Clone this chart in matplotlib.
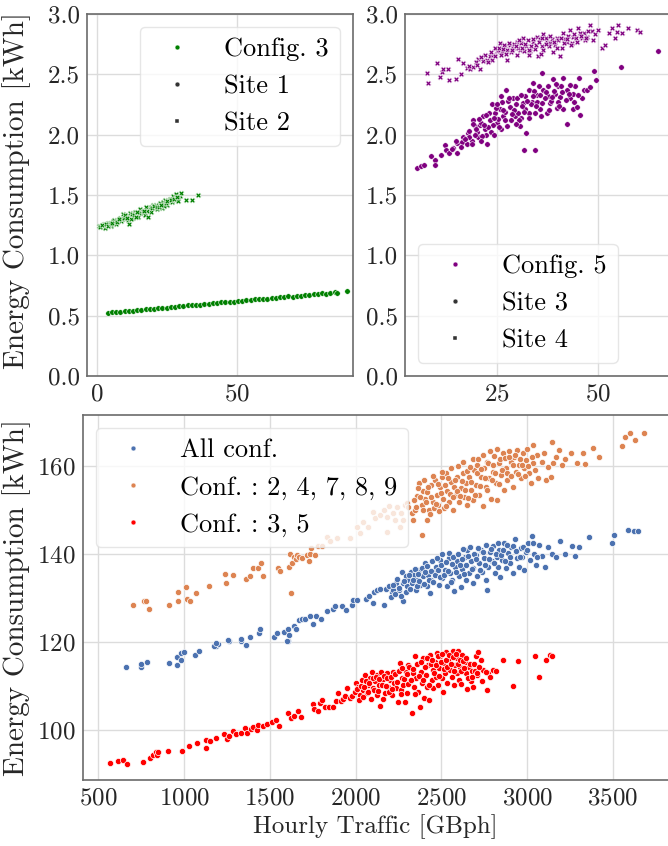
import numpy as np
import matplotlib
matplotlib.use("Agg")
import matplotlib.pyplot as plt
from matplotlib.lines import Line2D

## Style
plt.rcParams['font.family'] = 'serif'
plt.rcParams['font.serif'] = ['cmr10']
plt.rcParams['axes.formatter.use_mathtext'] = True
plt.rcParams['mathtext.fontset'] = 'cm'

## Data: top left, Config. 3
site1_x = [4, 5.5, 7, 8.5, 10, 11.5, 13, 14.5, 16, 17.5, 19, 20.5, 22, 23.5, 25, 26.5, 28, 29.5,
           31, 32.5, 34, 35.5, 37, 38.5, 40, 41.5, 43, 44.5, 46, 47.5, 49, 50.5, 52, 53.5, 55,
           56.5, 58, 59.5, 61, 62.5, 64, 65.5, 67, 68.5, 70, 71.5, 73, 74.5, 76, 77.5, 79, 80.5,
           82, 83.5, 85, 86, 89.4]
site1_y = [.524, .527, .533, .532, .538, .541, .542, .549, .548, .555, .557, .556, .564, .566,
           .567, .574, .573, .579, .578, .586, .585, .592, .591, .599, .598, .604, .603, .611,
           .610, .616, .615, .622, .621, .629, .628, .635, .634, .641, .640, .648, .646, .653,
           .652, .660, .658, .666, .664, .672, .671, .678, .677, .685, .683, .691, .696, .690, .700]

site2_x = [0.9, 1.5, 2.2, 2.8, 3.0, 3.6, 4.2, 4.8, 5.3, 5.9, 6.5, 7.0, 7.7, 8.3, 8.8, 9.5, 10.0,
           10.6, 11.2, 11.5, 11.9, 12.5, 13.1, 13.7, 14.3, 14.9, 15.5, 16.1, 16.7, 17.3, 17.8,
           18.4, 19.0, 19.6, 20.2, 20.8, 21.4, 22.0, 22.6, 23.2, 23.8, 24.4, 25.0, 25.6, 26.2,
           26.8, 27.4, 28.0, 28.3, 29.2, 29.7, 30.3, 31.9, 33.9, 36.3,
           2.5, 4.5, 6.2, 9.1, 12.2, 15.2, 18.1, 21.1, 24.1, 27.1, 29.0,
           1.2, 1.9, 3.3, 3.9, 5.0, 5.6, 6.8, 7.3, 8.0, 9.8, 10.3, 10.9, 12.8, 13.4, 14.0, 14.6,
           16.4, 17.0, 19.3, 19.9, 20.5, 21.7, 22.3, 23.0, 24.7, 25.3, 26.5, 27.7, 28.6]
site2_y = [1.24, 1.245, 1.24, 1.26, 1.23, 1.25, 1.265, 1.27, 1.245, 1.28, 1.27, 1.255, 1.29,
           1.31, 1.28, 1.34, 1.30, 1.32, 1.29, 1.26, 1.35, 1.33, 1.31, 1.36, 1.34, 1.32, 1.38,
           1.36, 1.35, 1.33, 1.40, 1.32, 1.38, 1.36, 1.42, 1.40, 1.38, 1.41, 1.43, 1.39, 1.44,
           1.46, 1.42, 1.45, 1.47, 1.44, 1.49, 1.46, 1.51, 1.45, 1.49, 1.52, 1.46, 1.46, 1.50,
           1.25, 1.25, 1.29, 1.30, 1.30, 1.35, 1.37, 1.42, 1.41, 1.47, 1.48,
           1.235, 1.25, 1.255, 1.24, 1.26, 1.27, 1.28, 1.275, 1.30, 1.31, 1.33, 1.31, 1.34, 1.33,
           1.32, 1.36, 1.37, 1.37, 1.40, 1.39, 1.41, 1.40, 1.40, 1.42, 1.43, 1.45, 1.46, 1.47, 1.48]

## Data: top right, Config. 5
site3_x = [5.3, 6.1, 7.0, 8.8, 9.7, 9.6, 11.1, 12.1, 12.5, 13.2, 14.2, 15.2, 15.2, 16.3, 16.7,
           17.5, 17.9, 18.7, 19.1, 19.6, 20.4, 20.8, 21.6, 22.0, 22.6, 23.3, 23.7, 24.5, 24.9,
           25.7, 26.2, 26.6, 27.2, 27.6, 28.2, 29.0, 29.5, 30.3, 30.7, 31.5, 31.9, 32.3, 33.0,
           33.6, 34.0, 34.4, 34.8, 35.6, 36.1, 36.5, 37.3, 37.7, 38.1, 38.8, 39.4, 39.8, 40.2,
           40.6, 41.4, 41.4, 42.2, 42.2, 43.1, 43.7, 43.9, 44.3, 44.7, 45.4, 45.5, 46.0, 46.4,
           47.2, 48.0, 49.0, 49.5, 55.6, 64.9, 31.8, 34.5,
           20.0, 21.0, 22.4, 23.0, 24.0, 24.8, 25.3, 26.0, 26.9, 27.8, 28.5, 29.3, 30.0, 30.9,
           31.2, 32.0, 32.8, 33.3, 34.2, 35.0, 35.9, 36.8, 37.5, 38.4, 39.0, 40.0, 40.9, 42.8,
           44.0, 22.9, 21.3, 18.0, 19.5, 16.0, 14.8, 13.8,
           17.0, 18.2, 18.9, 19.8, 20.6, 21.1, 21.8, 22.3, 23.5, 24.2, 25.0, 25.5, 26.4, 27.0,
           28.0, 28.8, 29.7, 30.5, 31.0, 31.7, 32.5, 33.0, 33.8, 34.6, 35.3, 36.2, 37.0, 37.9,
           38.7, 39.6, 40.4, 41.2, 42.0, 43.0, 45.0, 26.1, 24.3, 29.8, 35.7, 19.0]
site3_y = [1.72, 1.74, 1.75, 1.82, 1.79, 1.75, 1.83, 1.91, 1.87, 1.85, 1.89, 1.93, 1.85, 1.94,
           1.98, 1.92, 2.01, 1.95, 2.12, 2.07, 1.98, 2.08, 2.15, 2.05, 1.92, 2.12, 2.25, 2.18,
           2.10, 2.21, 2.27, 2.15, 2.37, 2.07, 2.23, 2.30, 2.15, 2.18, 2.07, 2.26, 2.21, 2.01,
           2.37, 2.27, 2.43, 2.18, 2.33, 2.21, 2.51, 2.37, 2.18, 2.32, 2.26, 2.46, 2.34, 2.22,
           2.40, 2.31, 2.47, 2.21, 2.37, 2.09, 2.30, 2.34, 2.21, 2.40, 2.23, 2.47, 2.16, 2.30,
           2.37, 2.37, 2.39, 2.53, 2.45, 2.56, 2.69, 1.87, 1.87,
           2.02, 2.10, 2.00, 2.18, 2.08, 2.22, 2.13, 2.05, 2.19, 2.28, 2.12, 2.20, 2.30, 2.14,
           2.24, 2.32, 2.18, 2.25, 2.36, 2.27, 2.15, 2.30, 2.40, 2.28, 2.36, 2.27, 2.40, 2.34,
           2.27, 2.06, 1.99, 1.98, 2.00, 1.90, 1.95, 1.88,
           1.96, 2.03, 1.92, 2.05, 2.13, 1.95, 2.08, 2.16, 2.02, 2.14, 2.25, 2.06, 2.20, 2.12,
           2.30, 2.17, 2.25, 2.12, 2.33, 2.19, 2.28, 2.14, 2.32, 2.24, 2.40, 2.26, 2.35, 2.20,
           2.31, 2.42, 2.24, 2.35, 2.29, 2.41, 2.33, 2.32, 2.00, 2.09, 2.33, 2.09]

site4_x = [7.8, 7.9, 10.1, 10.9, 11.3, 11.7, 13.2, 13.0, 14.9, 15.4, 16.1, 16.7, 17.5, 18.3,
           19.1, 20.4, 20.8, 21.6, 22.6, 23.3, 24.1, 24.9, 25.7, 26.2, 27.0, 27.4, 28.2, 29.0,
           29.9, 30.7, 31.5, 32.3, 33.2, 34.0, 34.8, 35.2, 36.1, 36.5, 37.3, 38.1, 38.9, 39.8,
           40.6, 41.4, 42.2, 43.1, 43.9, 45.1, 46.0, 46.4, 47.2, 48.0, 48.4, 49.3, 50.1, 50.9,
           51.7, 52.6, 53.4, 54.2, 54.6, 55.0, 55.9, 57.5, 59.7, 60.4,
           25.2, 26.0, 26.8, 27.6, 28.5, 29.3, 30.1, 31.0, 31.8, 32.6, 33.5, 34.4, 35.6, 36.4,
           37.0, 37.8, 38.6, 39.3, 40.1, 41.0, 41.8, 42.6, 43.5, 44.5, 45.6, 46.8, 47.6, 22.0,
           23.8, 24.6, 19.8, 18.0,
           20.0, 21.0, 22.8, 23.5, 24.4, 25.5, 26.5, 27.3, 28.0, 28.8, 29.6, 30.4, 31.3, 32.0,
           32.9, 33.8, 34.6, 35.4, 36.2, 37.2, 38.2, 39.0, 39.9, 40.8, 41.6, 42.4, 43.2, 44.0,
           44.8, 45.9, 47.0, 48.8, 30.0, 33.0, 36.0]
site4_y = [2.51, 2.43, 2.59, 2.48, 2.52, 2.54, 2.45, 2.54, 2.46, 2.63, 2.50, 2.59, 2.55, 2.54,
           2.56, 2.63, 2.54, 2.61, 2.62, 2.65, 2.66, 2.69, 2.76, 2.68, 2.73, 2.62, 2.74, 2.72,
           2.77, 2.70, 2.80, 2.73, 2.69, 2.77, 2.81, 2.65, 2.73, 2.83, 2.77, 2.76, 2.68, 2.80,
           2.65, 2.84, 2.77, 2.87, 2.81, 2.88, 2.80, 2.84, 2.81, 2.91, 2.86, 2.83, 2.87, 2.72,
           2.74, 2.84, 2.88, 2.80, 2.85, 2.91, 2.84, 2.88, 2.87, 2.85,
           2.70, 2.66, 2.74, 2.70, 2.68, 2.75, 2.72, 2.76, 2.69, 2.78, 2.73, 2.71, 2.79, 2.70,
           2.80, 2.73, 2.79, 2.74, 2.78, 2.72, 2.79, 2.82, 2.76, 2.80, 2.84, 2.78, 2.86, 2.66,
           2.62, 2.72, 2.60, 2.57,
           2.58, 2.64, 2.60, 2.68, 2.65, 2.72, 2.71, 2.67, 2.76, 2.70, 2.73, 2.78, 2.72, 2.75,
           2.70, 2.79, 2.74, 2.77, 2.80, 2.75, 2.82, 2.77, 2.72, 2.80, 2.76, 2.79, 2.74, 2.83,
           2.77, 2.82, 2.80, 2.78, 2.66, 2.66, 2.67]

## Data: bottom, all sites
all_x = [660, 751, 751, 786, 912, 959, 959, 984, 984, 1000, 1062, 1085, 1185, 1195, 1262, 1334,
         1362, 1603, 1176, 1187, 1258, 1331, 1359, 1381, 1435, 1441, 1521, 1542, 1581, 1600,
         1607, 1611, 1639, 1650, 1672, 1689, 1704, 1732, 1753, 1768, 1796, 1832, 1865, 1882,
         1918, 1946, 1977, 1983, 2005, 2063, 2076, 2101, 2106, 2123, 2144, 2166, 2177, 2192,
         2209, 2220, 2235, 2252, 2269, 2273, 2278, 2291, 2299, 2308, 2321, 2327, 2338, 2349,
         2359, 2370, 2377, 2392, 2403, 2413, 2420, 2435, 2441, 2456, 2467, 2484, 2493, 2506,
         2521, 2532, 2542, 2549, 2564, 2575, 2579, 2592, 2600, 2613, 2622, 2635, 2643, 2650,
         2661, 2671, 2682, 2686, 2699, 2708, 2721, 2729, 2736, 2747, 2757, 2764, 2772, 2785,
         2794, 2800, 2811, 2822, 2828, 2837, 2843, 2854, 2865, 2876, 2886, 2897, 2908, 2919,
         2929, 2940, 2951, 2962, 2972, 2983, 2994, 3005, 3016, 3026, 3037, 3052, 3069, 3086,
         3101, 3123, 3144, 3166, 3194, 3220, 3259, 3280, 3302, 3360, 3495, 3504, 3590, 3624, 3646,
         2205, 2215, 2228, 2242, 2255, 2262, 2283, 2295, 2312, 2318, 2333, 2344, 2356, 2365,
         2372, 2386, 2398, 2407, 2418, 2426, 2438, 2447, 2452, 2461, 2473, 2478, 2489, 2497,
         2503, 2514, 2526, 2537, 2545, 2553, 2560, 2568, 2584, 2596, 2606, 2617, 2627, 2631,
         2646, 2655, 2666, 2676, 2691, 2703, 2714, 2725, 2741, 2752, 2761, 2778, 2790, 2806,
         2817, 2832, 2848, 2858, 2871, 2882, 2902, 2915, 2934, 2957, 2978, 3000, 3031, 3060]
all_y = [114.2, 114.4, 115.0, 115.5, 115.1, 114.7, 116.5, 115.8, 117.4, 117.7, 117.1, 117.9,
         119.1, 119.5, 120.2, 120.3, 119.2, 120.1, 119.1, 119.7, 120.5, 120.6, 119.3, 121.2,
         122.1, 122.9, 121.1, 122.0, 122.3, 120.2, 123.0, 121.5, 123.6, 123.0, 125.0, 125.3,
         125.1, 126.0, 124.0, 126.0, 125.3, 127.0, 127.4, 128.1, 128.1, 127.2, 128.3, 129.5,
         129.6, 129.8, 130.5, 128.9, 131.3, 131.9, 132.0, 128.3, 132.0, 132.8, 131.3, 131.9,
         133.4, 131.7, 135.8, 129.2, 133.4, 134.9, 132.6, 134.1, 136.0, 133.4, 135.3, 131.9,
         134.1, 136.4, 133.0, 134.9, 137.9, 132.6, 135.3, 131.1, 134.1, 136.0, 137.1, 133.0,
         138.6, 134.5, 136.4, 132.6, 139.0, 135.6, 134.1, 131.5, 137.1, 138.3, 134.9, 132.5,
         136.5, 139.4, 134.1, 140.9, 135.6, 138.3, 133.4, 136.8, 139.8, 134.9, 137.9, 140.9,
         136.0, 139.0, 134.1, 131.7, 137.1, 140.5, 138.3, 141.7, 135.6, 139.4, 137.1, 140.9,
         134.7, 138.6, 142.4, 136.8, 140.2, 137.9, 141.5, 135.6, 143.3, 139.0, 137.1, 141.3,
         139.4, 136.4, 140.5, 142.4, 138.6, 144.1, 140.1, 137.5, 142.0, 139.5, 137.0, 141.5,
         140.1, 139.4, 143.0, 140.1, 141.8, 139.5, 141.5, 143.8, 142.4, 144.3, 145.4, 145.3, 145.3,
         130.2, 133.0, 131.0, 134.2, 132.3, 130.5, 133.8, 131.4, 135.2, 132.1, 134.0, 136.5,
         132.8, 135.5, 133.9, 136.9, 133.1, 135.8, 137.3, 134.0, 136.2, 138.4, 133.6, 135.1,
         139.1, 136.3, 134.7, 137.5, 139.9, 135.3, 138.1, 136.2, 140.3, 133.6, 137.7, 139.3,
         136.0, 140.1, 137.6, 138.9, 141.2, 135.4, 137.4, 139.6, 141.6, 136.6, 140.0, 138.8,
         141.3, 136.3, 140.4, 137.6, 142.0, 138.9, 141.1, 137.9, 140.1, 142.6, 139.7, 141.0,
         138.3, 142.0, 139.2, 141.9, 140.6, 139.2, 141.5, 140.9, 142.4, 139.3]

c24789_x = [699, 763, 778, 793, 914, 961, 961, 1009, 1015, 1032, 1069, 1146, 1237, 1245, 1284,
            1361, 1383, 1402, 1430, 1445, 1460, 1546, 1559, 1609, 1624, 1628, 1617, 1639, 1654,
            1660, 1671, 1688, 1714, 1725, 1736, 1761, 2387,
            1742, 1781, 1801, 1834, 1849, 1892, 1966, 2005, 2028, 2044, 2073, 2098, 2112, 2141,
            2164, 2180, 2195, 2219, 2228, 2238, 2267, 2277, 2287, 2297, 2306, 2258, 2180,
            2326, 2332, 2345, 2355, 2370, 2384, 2390, 2403, 2413, 2417, 2429, 2437, 2448, 2456,
            2462, 2472, 2481, 2491, 2501, 2507, 2514, 2526, 2534, 2545, 2553, 2565, 2573, 2584,
            2592, 2604, 2612, 2623, 2631, 2643, 2651, 2662, 2670, 2682, 2689, 2701, 2709, 2721,
            2728, 2740, 2748, 2759, 2767, 2779, 2787, 2798, 2806, 2818, 2826, 2837, 2845, 2857,
            2864, 2876, 2884, 2896, 2903, 2915, 2923, 2934, 2942, 2954, 2962, 2973, 2981, 2993,
            3000, 3012, 3020, 3032, 3036, 3045, 3055, 3065, 3084, 3098, 3110, 3123, 3137, 3143,
            3152, 3168, 3187, 3201, 3220, 3253, 3288, 3323, 3337, 3386, 3421, 3555, 3570, 3600,
            3629, 3681,
            2338, 2352, 2361, 2376, 2392, 2398, 2409, 2421, 2433, 2441, 2452, 2466, 2477, 2485,
            2496, 2505, 2518, 2529, 2537, 2549, 2557, 2569, 2578, 2588, 2599, 2608, 2617, 2626,
            2637, 2647, 2656, 2666, 2675, 2685, 2694, 2705, 2716, 2726, 2733, 2744, 2753, 2763,
            2773, 2783, 2792, 2802, 2812, 2822, 2833, 2841, 2852, 2868, 2880, 2892, 2907, 2919,
            2930, 2946, 2958, 2969, 2985, 3005, 3027]
c24789_y = [128.3, 129.3, 129.2, 127.5, 128.5, 131.3, 129.3, 132.5, 129.8, 129.2, 131.1, 132.8,
            135.4, 133.5, 135.1, 134.4, 134.9, 136.8, 136.7, 138.0, 135.0, 136.9, 136.2, 137.1,
            131.1, 137.9, 140.0, 139.4, 138.8, 139.8, 139.2, 139.0, 139.8, 138.3, 140.0, 139.8,
            144.3,
            141.3, 141.8, 141.7, 143.9, 143.0, 143.6, 143.6, 146.2, 144.7, 147.3, 146.2, 149.6,
            148.1, 148.9, 150.0, 148.5, 150.9, 149.2, 147.7, 150.6, 149.2, 147.7, 151.1, 151.5,
            150.6, 146.1, 145.1,
            149.2, 147.7, 150.1, 153.2, 156.2, 151.1, 154.2, 152.4, 147.7, 154.0, 150.1, 155.7,
            151.9, 150.4, 156.8, 153.4, 151.1, 155.3, 157.4, 152.6, 150.4, 158.3, 154.4, 151.9,
            156.4, 150.0, 155.3, 153.4, 157.4, 151.9, 154.9, 158.3, 153.0, 156.1, 151.1, 157.6,
            154.5, 152.3, 159.1, 155.7, 160.2, 153.4, 157.6, 150.8, 159.5, 155.3, 161.0, 157.2,
            152.6, 158.7, 162.3, 156.1, 152.3, 160.6, 157.9, 162.9, 154.5, 159.5, 156.8, 163.3,
            161.0, 155.3, 162.1, 158.7, 163.6, 160.2, 157.2, 162.9, 159.5, 161.4, 163.8, 158.3,
            156.1, 160.6, 164.8, 159.1, 162.5, 157.2, 161.0, 162.9, 156.7, 159.8, 157.6, 165.5,
            160.6, 162.1, 163.6, 160.2, 161.7, 163.0, 160.6, 162.9, 160.4, 164.0, 162.1, 164.6,
            166.5, 167.6, 165.9, 167.4,
            152.3, 150.6, 155.0, 152.9, 149.9, 156.9, 151.7, 155.3, 149.1, 153.0, 157.7, 151.4,
            155.8, 149.7, 153.9, 158.6, 155.7, 151.0, 157.3, 153.6, 159.5, 152.9, 156.8, 154.2,
            159.9, 153.1, 156.6, 160.9, 154.6, 158.9, 152.7, 159.8, 156.4, 161.5, 153.5, 158.3,
            161.6, 155.4, 159.3, 162.4, 157.3, 154.6, 160.7, 163.4, 156.9, 160.2, 158.4, 163.8,
            155.9, 161.5, 159.2, 161.9, 158.3, 162.0, 157.8, 160.3, 162.6, 158.1, 161.6, 160.2,
            157.8, 160.1, 162.0]

c35_x = [566, 615, 644, 667, 761, 800, 819, 833, 844, 848, 906, 988, 1027, 1072, 1126, 1130,
         1153, 1188, 1233, 1247, 1262, 1286, 1301, 1334, 1354, 1364, 1387, 1403, 1422, 1432,
         1461, 1480, 1510, 1533, 1554, 1607, 1621, 1640, 1665, 1679, 1749, 1756, 1782, 1791,
         1805, 1821, 1846, 1865, 1883, 1898, 1912, 1928, 1937, 1951, 1967, 1976, 1996, 2002,
         2015, 2025, 2035, 2044, 2054, 2064, 2074, 2083, 2093, 2103, 2113, 2122, 2126, 2138,
         2142, 2146, 2157, 2161, 2171, 2180, 2190, 2200, 2210, 2219, 2223, 2235, 2249, 2258,
         2262, 2268, 2278, 2288, 2293, 2301, 2307, 2317, 2326, 2332, 2340, 2346, 2352, 2365,
         2375, 2379, 2385, 2394, 2400, 2410, 2414, 2424, 2429, 2433, 2443, 2449, 2453, 2463,
         2468, 2472, 2482, 2488, 2492, 2501, 2507, 2511, 2521, 2527, 2534, 2540, 2550, 2560,
         2570, 2573, 2579, 2589, 2593, 2599, 2604, 2608, 2612, 2618, 2628, 2638, 2643, 2651,
         2663, 2671, 2677, 2686, 2696, 2702, 2710, 2715, 2729, 2745, 2764, 2774, 2784, 2803,
         2818, 2861, 2916, 2945, 3048, 3069, 3108, 3134, 3143,
         2008, 2019, 2031, 2040, 2051, 2060, 2069, 2079, 2088, 2098, 2108, 2117, 2131, 2136,
         2151, 2166, 2176, 2185, 2195, 2205, 2214, 2228, 2240, 2252, 2265, 2272, 2283, 2297,
         2304, 2312, 2322, 2336, 2343, 2357, 2368, 2382, 2390, 2404, 2418, 2427, 2438, 2446,
         2458, 2466, 2477, 2485, 2496, 2504, 2516, 2525, 2531, 2545, 2554, 2566, 2575, 2585,
         2595, 2606, 2615, 2624, 2633, 2645, 2656, 2668, 2680, 2690, 2705, 2720, 2738, 2758]
c35_y = [92.4, 92.9, 93.2, 92.2, 92.6, 93.6, 94.3, 94.9, 94.2, 95.0, 95.1, 95.3, 96.4, 97.1,
         95.8, 97.6, 97.4, 98.2, 99.1, 98.0, 98.5, 99.8, 99.1, 99.4, 100.4, 99.4, 100.1, 100.6,
         100.0, 101.1, 100.9, 101.4, 101.7, 102.3, 100.9, 103.8, 102.6, 103.2, 104.4, 102.9,
         105.9, 104.7, 104.2, 106.1, 106.8, 105.1, 105.1, 105.1, 106.6, 108.3, 106.6, 107.0,
         107.6, 109.5, 107.2, 107.7, 108.7, 110.6, 109.7, 107.9, 111.4, 109.1, 112.5, 108.3,
         110.2, 111.7, 113.2, 109.5, 111.0, 107.9, 112.5, 110.2, 105.5, 113.2, 111.5, 107.0,
         108.3, 112.9, 109.8, 111.4, 107.9, 113.2, 110.6, 109.5, 106.4, 115.1, 109.1, 111.7,
         110.2, 106.4, 113.2, 108.3, 114.8, 111.0, 103.8, 112.9, 109.8, 116.7, 111.7, 108.7,
         105.3, 113.2, 110.6, 116.3, 107.2, 112.5, 109.8, 114.8, 106.7, 117.0, 111.4, 113.6,
         109.5, 115.5, 112.1, 117.4, 110.2, 114.0, 116.7, 111.7, 108.7, 115.1, 112.9, 117.6,
         110.6, 115.9, 113.6, 112.1, 118.0, 110.2, 114.8, 116.3, 112.9, 118.0, 111.4, 114.4,
         110.4, 117.0, 113.6, 115.5, 112.9, 109.3, 114.4, 111.0, 113.3, 109.8, 113.3, 116.7,
         112.5, 117.8, 115.9, 113.6, 109.1, 112.9, 112.1, 113.6, 113.3, 115.8, 110.0, 115.6,
         116.8, 112.1, 115.9, 117.0, 116.7,
         109.2, 106.9, 110.0, 107.5, 109.7, 111.0, 108.5, 110.6, 107.1, 111.9, 109.0, 112.1,
         108.9, 111.5, 110.1, 112.3, 109.9, 111.9, 108.6, 112.1, 109.3, 112.7, 110.9, 113.4,
         108.2, 114.1, 111.5, 112.8, 110.4, 114.3, 111.3, 113.8, 108.2, 114.9, 112.2, 115.5,
         111.4, 114.3, 116.4, 110.3, 114.9, 116.0, 112.9, 114.7, 116.8, 112.3, 115.4, 117.3,
         113.9, 116.0, 114.2, 117.0, 114.9, 116.5, 113.4, 117.2, 115.0, 116.0, 113.4, 115.7,
         114.1, 116.3, 111.8, 114.9, 112.0, 115.0, 112.9, 114.3, 111.2, 113.1]

## Colors
green = '#008000'
purple = '#800080'
blue = '#4C72B0'
orange = '#DD8452'
red = '#FF0000'
spine_col = '#6b6b6b'


def style(ax, right_open=False):
    ax.set_facecolor('white')
    ax.grid(True, color='#dcdcdc', linewidth=1.0)
    ax.set_axisbelow(True)
    for s in ax.spines.values():
        s.set_color(spine_col)
        s.set_linewidth(1.2)
    if right_open:
        ax.spines['right'].set_visible(False)
    ax.tick_params(length=0, labelsize=18, colors='#262626', pad=5)


## Figure
fig = plt.figure(figsize=(6.68, 8.46), dpi=100)
ax1 = fig.add_axes([0.130, 0.5556, 0.398, 0.428])
ax2 = fig.add_axes([0.606, 0.5556, 0.394, 0.428])
ax3 = fig.add_axes([0.124, 0.078, 0.876, 0.4315])

pt = dict(s=16, edgecolors='white', linewidths=0.4)
pb = dict(s=20, edgecolors='white', linewidths=0.5)

# Top left
ax1.scatter(site1_x, site1_y, color=green, marker='o', **pt)
ax1.scatter(site2_x, site2_y, color=green, marker='X', **pt)
ax1.set_xlim(-3.5, 91.5)
ax1.set_ylim(0, 3)
ax1.set_xticks([0, 50])
ax1.set_yticks([0, 0.5, 1, 1.5, 2, 2.5, 3])
ax1.set_yticklabels(['0.0', '0.5', '1.0', '1.5', '2.0', '2.5', '3.0'])
style(ax1)
ax1.set_ylabel('Energy Consumption [kWh]', fontsize=21, color='#262626')
ax1.yaxis.set_label_coords(0.047, 0.775, transform=fig.transFigure)

# Top right
ax2.scatter(site3_x, site3_y, color=purple, marker='o', **pt)
ax2.scatter(site4_x, site4_y, color=purple, marker='X', **pt)
ax2.set_xlim(2.2, 67.3)
ax2.set_ylim(0, 3)
ax2.set_xticks([25, 50])
ax2.set_yticks([0, 0.5, 1, 1.5, 2, 2.5, 3])
ax2.set_yticklabels(['0.0', '0.5', '1.0', '1.5', '2.0', '2.5', '3.0'])
style(ax2, right_open=True)

# Bottom
ax3.scatter(all_x, all_y, color=blue, marker='o', **pb)
ax3.scatter(c24789_x, c24789_y, color=orange, marker='o', **pb)
ax3.scatter(c35_x, c35_y, color=red, marker='o', **pb)
ax3.set_xlim(409, 3821)
ax3.set_ylim(88.6, 171.6)
ax3.set_xticks([500, 1000, 1500, 2000, 2500, 3000, 3500])
ax3.set_yticks([100, 120, 140, 160])
style(ax3, right_open=True)
ax3.set_xlabel('Hourly Traffic [GBph]', fontsize=18, color='#262626', labelpad=4)
ax3.set_ylabel('Energy Consumption [kWh]', fontsize=21, color='#262626')
ax3.yaxis.set_label_coords(0.047, 0.2937, transform=fig.transFigure)

## Legends
def h(color, marker, ms=3.5):
    return Line2D([], [], linestyle='none', marker=marker, color=color,
                  markeredgecolor='white', markeredgewidth=0.3, markersize=ms)

leg_kw = dict(fontsize=19, framealpha=0.8, edgecolor='#e0e0e0')
ax1.legend([h(green, 'o'), h('#333333', 'o'), h('#333333', 's', 3)],
           ['Config. 3', 'Site 1', 'Site 2'], loc='upper right', **leg_kw)
ax2.legend([h(purple, 'o'), h('#333333', 'o'), h('#333333', 's', 3)],
           ['Config. 5', 'Site 3', 'Site 4'], loc='lower left', **leg_kw)
ax3.legend([h(blue, 'o'), h(orange, 'o'), h(red, 'o')],
           ['All conf.', 'Conf. : 2, 4, 7, 8, 9', 'Conf. : 3, 5'], loc='upper left', **leg_kw)

plt.savefig('out.png', dpi=100)
